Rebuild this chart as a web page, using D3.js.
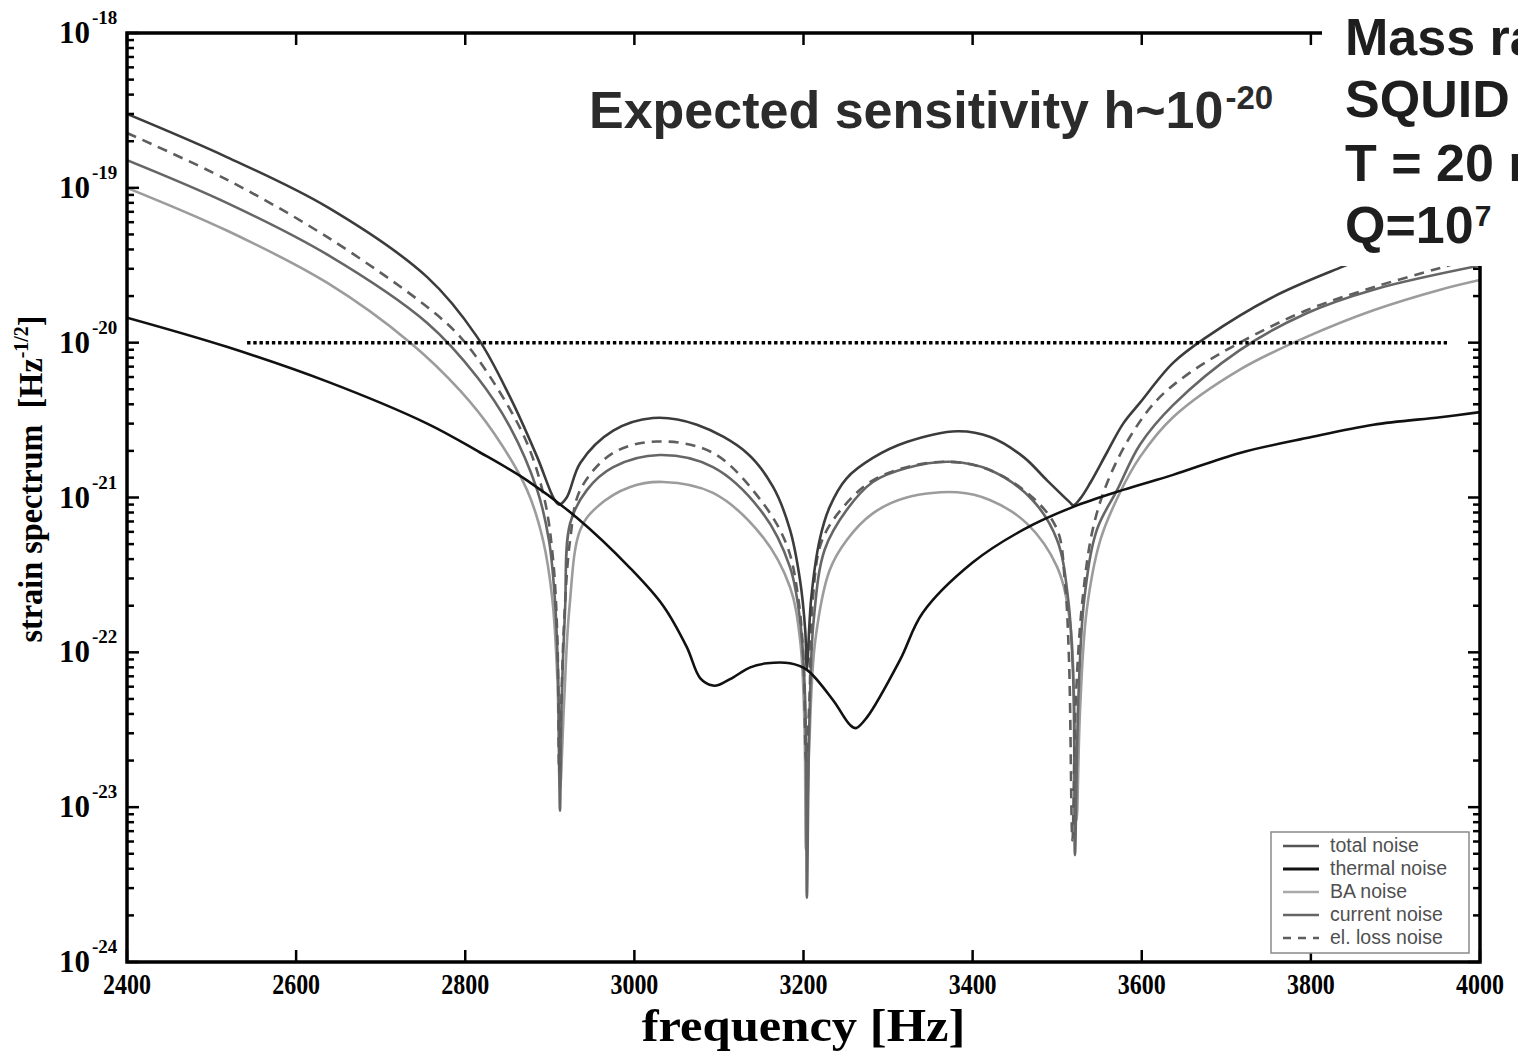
<!DOCTYPE html>
<html>
<head>
<meta charset="utf-8">
<script src="https://cdn.jsdelivr.net/npm/d3@7"></script>
<style>
  body { margin: 0; background: #fff; }
  svg { display: block; }
</style>
</head>
<body>
<svg id="chart" width="1518" height="1053"></svg>
<script>
// Strain noise spectra [Hz^-1/2] versus frequency [Hz]: [frequency, strain]
const totalNoise = [
  [2400,3.0e-19],[2518,1.58e-19],[2637,7.5e-20],[2755,2.65e-20],[2814,1.09e-20],[2853,4.45e-21],
  [2885,1.83e-21],[2905,9.8e-22],[2911,9.0e-22],[2920,1.0e-21],[2936,1.67e-21],[2975,2.7e-21],
  [3022,3.26e-21],[3074,2.95e-21],[3133,1.94e-21],[3164,1.17e-21],[3184,6.2e-22],[3196,2.9e-22],
  [3202,1.4e-22],[3204,7.8e-23],[3209,2.2e-22],[3219,5.3e-22],[3231,8.7e-22],[3251,1.33e-21],
  [3282,1.8e-21],[3322,2.28e-21],[3382,2.68e-21],[3421,2.46e-21],[3460,1.83e-21],[3488,1.29e-21],
  [3515,9.3e-22],[3519,8.9e-22],[3527,9.8e-22],[3539,1.24e-21],[3559,1.96e-21],[3578,3.0e-21],
  [3598,4.1e-21],[3637,7.4e-21],[3677,1.09e-20],[3755,1.97e-20],[3834,3.04e-20],[3905,4.3e-20],
  [4000,6.2e-20]
];
const thermalNoise = [
  [2400,1.45e-20],[2518,9.4e-21],[2637,5.6e-21],[2755,3.0e-21],[2817,1.96e-21],[2873,1.29e-21],
  [2932,7.4e-22],[2995,3.5e-22],[3034,2.0e-22],[3062,1.08e-22],[3078,6.8e-23],[3093,6.1e-23],
  [3101,6.2e-23],[3117,6.9e-23],[3137,8.0e-23],[3157,8.5e-23],[3184,8.5e-23],[3204,7.7e-23],
  [3235,4.9e-23],[3255,3.4e-23],[3262,3.24e-23],[3275,3.8e-23],[3314,8.9e-23],[3341,1.8e-22],
  [3400,3.8e-22],[3460,6.2e-22],[3519,8.7e-22],[3578,1.12e-21],[3637,1.4e-21],[3716,1.94e-21],
  [3795,2.42e-21],[3874,2.95e-21],[3953,3.3e-21],[4000,3.56e-21]
];
const baNoise = [
  [2400,1.0e-19],[2518,5.3e-20],[2637,2.43e-20],[2735,1.0e-20],[2794,4.9e-21],[2834,2.6e-21],
  [2873,1.12e-21],[2892,5.3e-22],[2903,2.2e-22],[2909,6.6e-23],[2912,1.28e-23],[2917,4.9e-23],
  [2923,1.88e-22],[2936,6.2e-22],[2956,8.7e-22],[2995,1.17e-21],[3034,1.26e-21],[3093,1.07e-21],
  [3152,5.55e-22],[3184,2.64e-22],[3196,1.2e-22],[3201,3.65e-23],[3203,5.3e-24],[3207,2.7e-23],
  [3214,1.2e-22],[3231,3.4e-22],[3251,5.3e-22],[3282,7.9e-22],[3322,1.0e-21],[3382,1.08e-21],
  [3421,9.6e-22],[3464,6.8e-22],[3500,3.55e-22],[3515,1.6e-22],[3520,4.9e-23],[3523,8.2e-24],
  [3527,4.2e-23],[3535,1.88e-22],[3551,5.3e-22],[3574,1.07e-21],[3598,1.83e-21],[3637,3.3e-21],
  [3716,6.7e-21],[3795,1.09e-20],[3874,1.62e-20],[3953,2.2e-20],[4000,2.54e-20]
];
const currentNoise = [
  [2400,1.51e-19],[2518,8.0e-20],[2637,3.7e-20],[2755,1.34e-20],[2814,6.0e-21],[2853,2.85e-21],
  [2885,1.12e-21],[2899,5.3e-22],[2906,2.2e-22],[2910,6.6e-23],[2912,9.5e-24],[2914,4.9e-23],
  [2918,1.88e-22],[2924,6.8e-22],[2944,1.12e-21],[2975,1.57e-21],[3030,1.88e-21],[3093,1.57e-21],
  [3152,7.9e-22],[3184,3.55e-22],[3196,1.6e-22],[3202,4.9e-23],[3204,2.6e-24],[3207,3.65e-23],
  [3212,1.6e-22],[3225,4.6e-22],[3251,8.3e-22],[3282,1.26e-21],[3322,1.55e-21],[3373,1.7e-21],
  [3421,1.5e-21],[3471,9.6e-22],[3500,5.3e-22],[3513,2.2e-22],[3519,6.6e-23],[3521,4.9e-24],
  [3525,4.9e-23],[3532,2.2e-22],[3547,6.2e-22],[3571,1.12e-21],[3598,2.2e-21],[3637,3.95e-21],
  [3716,8.96e-21],[3795,1.55e-20],[3874,2.2e-20],[4000,3.15e-20]
];
const elLossNoise = [
  [2400,2.26e-19],[2518,1.13e-19],[2637,4.8e-20],[2755,1.7e-20],[2794,1.09e-20],[2834,5.5e-21],
  [2873,2.25e-21],[2894,9.6e-22],[2904,3.9e-22],[2909,1.2e-22],[2911,1.7e-23],[2913,3.65e-23],
  [2917,1.6e-22],[2924,5.3e-22],[2936,1.12e-21],[2975,1.94e-21],[3027,2.3e-21],[3093,1.94e-21],
  [3152,9.2e-22],[3181,4.8e-22],[3194,2.2e-22],[3200,8.9e-23],[3203,2.0e-23],[3207,4.9e-23],
  [3211,2.2e-22],[3222,5.3e-22],[3251,9.2e-22],[3282,1.29e-21],[3322,1.57e-21],[3373,1.7e-21],
  [3421,1.5e-21],[3471,1.0e-21],[3500,6.2e-22],[3509,2.9e-22],[3514,8.9e-23],[3518,6.1e-24],
  [3522,4.9e-23],[3530,2.2e-22],[3542,6.2e-22],[3559,1.24e-21],[3586,2.46e-21],[3618,4.26e-21],
  [3657,6.4e-21],[3716,1.0e-20],[3795,1.62e-20],[3874,2.28e-20],[3953,3.04e-20],[4000,3.6e-20]
];

// Expected sensitivity level and its frequency span
const sensitivityLevel = 1e-20;
const sensitivitySpan = [2542, 3961];

// Axis ticks
const xTickValues = [2400, 2600, 2800, 3000, 3200, 3400, 3600, 3800, 4000];
const yTickValues = [1e-18, 1e-19, 1e-20, 1e-21, 1e-22, 1e-23, 1e-24];
const yTickExponents = ["-18", "-19", "-20", "-21", "-22", "-23", "-24"];

const legendLabels = ["total noise", "thermal noise", "BA noise", "current noise", "el. loss noise"];
const noteLines = ["Mass ratio", "SQUID", "T = 20 mK", "Q=10"];

// ---- layout ----
const svg = d3.select("#chart");
const plot = { left: 127, right: 1480, top: 33, bottom: 962 };

const x = d3.scaleLinear().domain([2400, 4000]).range([plot.left, plot.right]);
const y = d3.scaleLog().domain([1e-24, 1e-18]).range([plot.bottom, plot.top]);

const serif = "'Liberation Serif', 'Times New Roman', serif";
const sans = "'Liberation Sans', Arial, Helvetica, sans-serif";

svg.append("defs").append("clipPath").attr("id", "plotClip")
  .append("rect")
  .attr("x", plot.left).attr("y", plot.top)
  .attr("width", plot.right - plot.left).attr("height", plot.bottom - plot.top);

// ---- curves ----
const styles = [
  { data: baNoise,      color: "#9c9c9c", width: 2.6, dash: null },
  { data: currentNoise, color: "#666666", width: 2.6, dash: null },
  { data: elLossNoise,  color: "#5e5e5e", width: 2.6, dash: "10,7" },
  { data: totalNoise,   color: "#3c3c3c", width: 2.6, dash: null },
  { data: thermalNoise, color: "#111111", width: 2.6, dash: null }
];

const line = d3.line()
  .x(d => x(d[0]))
  .y(d => y(d[1]))
  .curve(d3.curveCatmullRom.alpha(0.5));

const curves = svg.append("g").attr("clip-path", "url(#plotClip)");
styles.forEach(s => {
  curves.append("path")
    .datum(s.data)
    .attr("d", line)
    .attr("fill", "none")
    .attr("stroke", s.color)
    .attr("stroke-width", s.width)
    .attr("stroke-linejoin", "round")
    .attr("stroke-dasharray", s.dash);
});

// dotted sensitivity line
svg.append("line")
  .attr("x1", x(sensitivitySpan[0])).attr("x2", x(sensitivitySpan[1]))
  .attr("y1", y(sensitivityLevel)).attr("y2", y(sensitivityLevel))
  .attr("stroke", "#000").attr("stroke-width", 3.5)
  .attr("stroke-dasharray", "3.4,2.8");

// ---- frame and ticks ----
const axes = svg.append("g");
axes.append("rect")
  .attr("x", plot.left).attr("y", plot.top)
  .attr("width", plot.right - plot.left).attr("height", plot.bottom - plot.top)
  .attr("fill", "none").attr("stroke", "#000").attr("stroke-width", 3.5);

// x major ticks, inward on bottom and top
xTickValues.forEach(v => {
  axes.append("line").attr("x1", x(v)).attr("x2", x(v))
    .attr("y1", plot.bottom).attr("y2", plot.bottom - 12)
    .attr("stroke", "#000").attr("stroke-width", 2.5);
  axes.append("line").attr("x1", x(v)).attr("x2", x(v))
    .attr("y1", plot.top).attr("y2", plot.top + 12)
    .attr("stroke", "#000").attr("stroke-width", 2.5);
});

// y ticks (major and log minor), inward on left and right
y.ticks(60).forEach(v => {
  const mant = Math.round(v / Math.pow(10, Math.floor(Math.log10(v) + 1e-9)));
  const len = mant === 1 ? 12 : 7;
  axes.append("line").attr("x1", plot.left).attr("x2", plot.left + len)
    .attr("y1", y(v)).attr("y2", y(v))
    .attr("stroke", "#000").attr("stroke-width", 2.5);
  axes.append("line").attr("x1", plot.right).attr("x2", plot.right - len)
    .attr("y1", y(v)).attr("y2", y(v))
    .attr("stroke", "#000").attr("stroke-width", 2.5);
});

// x tick labels
xTickValues.forEach(v => {
  axes.append("text")
    .attr("transform", `translate(${x(v)},${plot.bottom + 32}) scale(0.8,1)`)
    .attr("text-anchor", "middle")
    .attr("font-family", serif).attr("font-weight", "bold")
    .attr("font-size", 30).attr("fill", "#000")
    .text(v);
});

// y tick labels: 10 with superscript exponent
yTickValues.forEach((v, i) => {
  const g = axes.append("g").attr("transform", `translate(0,${y(v)})`);
  g.append("text")
    .attr("x", 90).attr("y", 10)
    .attr("text-anchor", "end")
    .attr("font-family", serif).attr("font-weight", "bold")
    .attr("font-size", 31).attr("fill", "#000")
    .text("10");
  g.append("text")
    .attr("x", 92).attr("y", -9)
    .attr("font-family", serif).attr("font-weight", "bold")
    .attr("font-size", 19).attr("fill", "#000")
    .text(yTickExponents[i]);
});

// axis titles
svg.append("text")
  .attr("transform", `translate(${(plot.left + plot.right) / 2},1041) scale(1.1,1)`)
  .attr("text-anchor", "middle")
  .attr("font-family", serif).attr("font-weight", "bold")
  .attr("font-size", 46).attr("fill", "#000")
  .text("frequency [Hz]");

const yTitle = svg.append("text")
  .attr("transform", "translate(42,479) rotate(-90) scale(0.95,1)")
  .attr("text-anchor", "middle")
  .attr("font-family", serif).attr("font-weight", "bold")
  .attr("font-size", 34).attr("fill", "#000");
yTitle.append("tspan").text("strain spectrum\u00a0 [Hz");
yTitle.append("tspan").attr("dy", -14).attr("font-size", 21).text("-1/2");
yTitle.append("tspan").attr("dy", 14).text("]");

// ---- legend ----
const legend = svg.append("g");
legend.append("rect")
  .attr("x", 1271).attr("y", 832).attr("width", 198).attr("height", 121)
  .attr("fill", "#fff").attr("stroke", "#8a8a8a").attr("stroke-width", 1.5);
const legendStyles = [
  { color: "#555555", width: 2.6, dash: null },
  { color: "#111111", width: 3.2, dash: null },
  { color: "#aaaaaa", width: 2.6, dash: null },
  { color: "#666666", width: 2.6, dash: null },
  { color: "#5e5e5e", width: 2.6, dash: "8,7" }
];
legendLabels.forEach((label, i) => {
  const ly = 846 + i * 23;
  legend.append("line")
    .attr("x1", 1283).attr("x2", 1319).attr("y1", ly).attr("y2", ly)
    .attr("stroke", legendStyles[i].color)
    .attr("stroke-width", legendStyles[i].width)
    .attr("stroke-dasharray", legendStyles[i].dash);
  legend.append("text")
    .attr("x", 1330).attr("y", ly + 6)
    .attr("font-family", sans).attr("font-size", 19.5)
    .attr("fill", "#505050")
    .text(label);
});

// ---- annotations ----
svg.append("rect")
  .attr("x", 1322).attr("y", 0).attr("width", 196).attr("height", 266)
  .attr("fill", "#fff");

const headline = svg.append("text")
  .attr("x", 589).attr("y", 128)
  .attr("font-family", sans).attr("font-weight", "bold")
  .attr("font-size", 52).attr("fill", "#2b2b2b");
headline.append("tspan").text("Expected sensitivity h~10");
headline.append("tspan").attr("dx", 2).attr("dy", -19).attr("font-size", 33).text("-20");

const noteBaselines = [55, 117, 181, 243];
noteLines.forEach((t, i) => {
  const txt = svg.append("text")
    .attr("x", 1345).attr("y", noteBaselines[i])
    .attr("font-family", sans).attr("font-weight", "bold")
    .attr("font-size", 52).attr("fill", "#1e1e1e");
  txt.append("tspan").text(t);
  if (i === noteLines.length - 1) {
    txt.append("tspan").attr("dx", 1).attr("dy", -17).attr("font-size", 30).text("7");
  }
});
</script>
</body>
</html>
